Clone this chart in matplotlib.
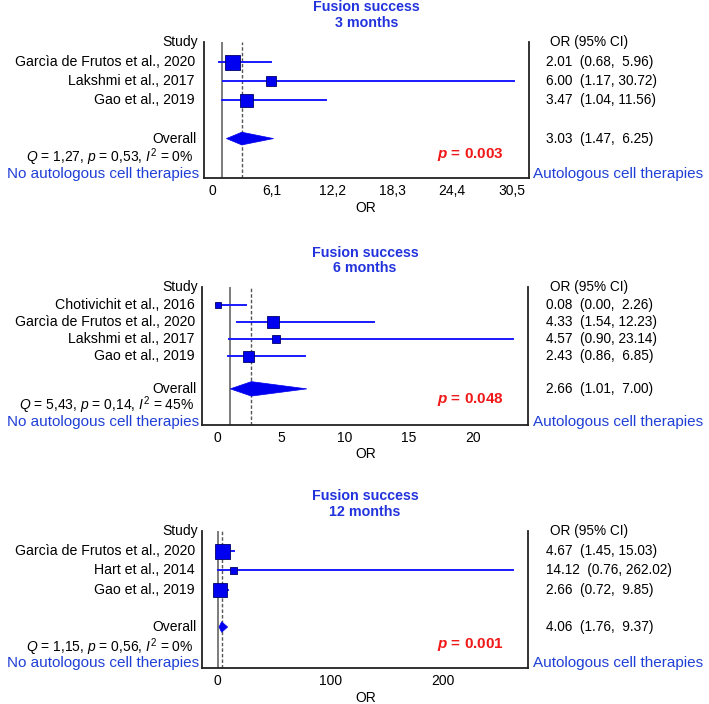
import matplotlib
matplotlib.use("Agg")
import matplotlib.pyplot as plt
from matplotlib.transforms import blended_transform_factory
from matplotlib.patches import Polygon

plt.rcParams['font.family'] = ['Liberation Sans', 'DejaVu Sans']
plt.rcParams['mathtext.fontset'] = 'custom'
plt.rcParams['mathtext.rm'] = 'Liberation Sans'
plt.rcParams['mathtext.it'] = 'Liberation Sans:italic'
plt.rcParams['mathtext.bf'] = 'Liberation Sans:bold'
plt.rcParams['mathtext.bfit'] = 'Liberation Sans:bold:italic'

# ---------------- data ----------------
titles = ["Fusion success\n3 months", "Fusion success\n6 months", "Fusion success\n12 months"]

studies_3m = ["Garcìa de Frutos et al., 2020", "Lakshmi et al., 2017", "Gao et al., 2019"]
or_3m = [2.01, 6.00, 3.47]
lo_3m = [0.68, 1.17, 1.04]
hi_3m = [5.96, 30.72, 11.56]
overall_3m = [3.03, 1.47, 6.25]
q_3m = "$Q$ = 1,27, $p$ = 0,53, $I^2$ = 0%"
p_3m = "$\\mathbfit{p}$ = 0.003"
ticks_3m = [0, 6.1, 12.2, 18.3, 24.4, 30.5]
ticklabels_3m = ["0", "6,1", "12,2", "18,3", "24,4", "30,5"]

studies_6m = ["Chotivichit et al., 2016", "Garcìa de Frutos et al., 2020", "Lakshmi et al., 2017", "Gao et al., 2019"]
or_6m = [0.08, 4.33, 4.57, 2.43]
lo_6m = [0.00, 1.54, 0.90, 0.86]
hi_6m = [2.26, 12.23, 23.14, 6.85]
overall_6m = [2.66, 1.01, 7.00]
q_6m = "$Q$ = 5,43, $p$ = 0,14, $I^2$ = 45%"
p_6m = "$\\mathbfit{p}$ = 0.048"
ticks_6m = [0, 5, 10, 15, 20]
ticklabels_6m = ["0", "5", "10", "15", "20"]

studies_12m = ["Garcìa de Frutos et al., 2020", "Hart et al., 2014", "Gao et al., 2019"]
or_12m = [4.67, 14.12, 2.66]
lo_12m = [1.45, 0.76, 0.72]
hi_12m = [15.03, 262.02, 9.85]
overall_12m = [4.06, 1.76, 9.37]
q_12m = "$Q$ = 1,15, $p$ = 0,56, $I^2$ = 0%"
p_12m = "$\\mathbfit{p}$ = 0.001"
ticks_12m = [0, 100, 200]
ticklabels_12m = ["0", "100", "200"]

# ---------------- style / layout ----------------
W, H = 709, 704
BLUE_MARK = '#0000F0'
BLUE_LINE = '#1a1aff'
BLUE_TXT = '#1f3fd6'
TITLE_C = '#2233dd'
RED = '#f01818'

panels = [
    dict(studies=studies_3m, est=or_3m, lo=lo_3m, hi=hi_3m, ov=overall_3m, q=q_3m, p=p_3m,
         ticks=ticks_3m, tl=ticklabels_3m, title=titles[0],
         box=(204, 529, 42, 178), xlim=(-0.81, 32.2), ybot=7.05, sizes=[15, 10, 13],
         ovrow=5, qrow=5.98, nrow=6.85, prow=5.85, dh=0.33, title_y=(7, 23), or_y=208),
    dict(studies=studies_6m, est=or_6m, lo=lo_6m, hi=hi_6m, ov=overall_6m, q=q_6m, p=p_6m,
         ticks=ticks_6m, tl=ticklabels_6m, title=titles[1],
         box=(202, 528, 287, 425), xlim=(-1.2, 24.3), ybot=8.0, sizes=[6, 12, 8, 11],
         ovrow=5.9, qrow=6.85, nrow=7.82, prow=6.5, dh=0.42, title_y=(253, 268), or_y=454),
    dict(studies=studies_12m, est=or_12m, lo=lo_12m, hi=hi_12m, ov=overall_12m, q=q_12m, p=p_12m,
         ticks=ticks_12m, tl=ticklabels_12m, title=titles[2],
         box=(202, 528, 531, 668), xlim=(-13.3, 275), ybot=7.0, sizes=[15, 7, 14],
         ovrow=4.9, qrow=5.92, nrow=6.75, prow=5.8, dh=0.27, title_y=(496, 512), or_y=698),
]

fig = plt.figure(figsize=(W / 100, H / 100), dpi=100)

def fx(px):
    return px / W

def fy(py):
    return 1 - py / H

def ci_text(e, lo, hi):
    sep = ",  " if hi < 10 else ", "
    return f"{e:.2f}  ({lo:.2f}{sep}{hi:.2f})"

for P in panels:
    l, r, t, b = P['box']
    ax = fig.add_axes([fx(l), fy(b), fx(r - l), (b - t) / H])
    ax.set_xlim(*P['xlim'])
    ax.set_ylim(P['ybot'], -0.02)
    ax.spines['top'].set_visible(False)
    for s in ['left', 'right', 'bottom']:
        ax.spines[s].set_linewidth(1.3)
        ax.spines[s].set_color('#222222')
    ax.set_yticks([])
    ax.set_xticks(P['ticks'])
    ax.set_xticklabels(P['tl'], fontsize=10)
    ax.tick_params(axis='x', length=0, pad=4)
    ax.patch.set_alpha(0)

    # reference lines
    ax.axvline(1, color='#666666', lw=1.2, zorder=1)
    ax.axvline(P['ov'][0], color='#555555', lw=1.0, ls=(0, (2.5, 1.5)), zorder=1)

    rows = list(range(1, len(P['studies']) + 1))
    for i, yy in enumerate(rows):
        ax.plot([P['lo'][i], P['hi'][i]], [yy, yy], color=BLUE_LINE, lw=1.4, zorder=2)
        ax.plot([P['est'][i]], [yy], marker='s', ms=P['sizes'][i] * 0.72,
                mfc=BLUE_MARK, mec='#000066', mew=0.6, zorder=3)

    est, olo, ohi = P['ov']
    oy = P['ovrow']
    dh = P['dh']
    ax.add_patch(Polygon([[olo, oy], [est, oy - dh], [ohi, oy], [est, oy + dh]],
                         closed=True, fc=BLUE_MARK, ec=BLUE_MARK, lw=0.5, zorder=3))

    tr = blended_transform_factory(fig.transFigure, ax.transData)
    # left labels
    ax.text(fx(198), 0, "Study", transform=tr, ha='right', va='center', fontsize=10)
    for i, yy in enumerate(rows):
        ax.text(fx(195), yy, P['studies'][i], transform=tr, ha='right', va='center', fontsize=10.2)
    ax.text(fx(197), oy, "Overall", transform=tr, ha='right', va='center', fontsize=10)
    ax.text(fx(194), P['qrow'], P['q'], transform=tr, ha='right', va='center', fontsize=10)
    ax.text(fx(199), P['nrow'], "No autologous cell therapies", transform=tr, ha='right',
            va='center', fontsize=11, color=BLUE_TXT)

    # right labels
    ax.text(fx(550), 0, "OR (95% CI)", transform=tr, ha='left', va='center', fontsize=9.8)
    for i, yy in enumerate(rows):
        ax.text(fx(546), yy, ci_text(P['est'][i], P['lo'][i], P['hi'][i]), transform=tr,
                ha='left', va='center', fontsize=9.8)
    ax.text(fx(546), oy, ci_text(est, olo, ohi), transform=tr, ha='left', va='center', fontsize=9.8)
    ax.text(fx(533), P['nrow'], "Autologous cell therapies", transform=tr, ha='left',
            va='center', fontsize=11, color=BLUE_TXT)

    # p value
    ax.text(fx(504), P['prow'], P['p'], transform=tr, ha='right', va='center',
            fontsize=11, color=RED, fontweight='bold')

    # title & axis label
    fig.text(fx((l + r) / 2), fy((P['title_y'][0] + P['title_y'][1]) / 2), P['title'],
             ha='center', va='center', fontsize=10.3, fontweight='bold', color=TITLE_C,
             linespacing=1.1)
    fig.text(fx(366), fy(P['or_y']), "OR", ha='center', va='center', fontsize=10)

fig.savefig("out.png", dpi=100)
